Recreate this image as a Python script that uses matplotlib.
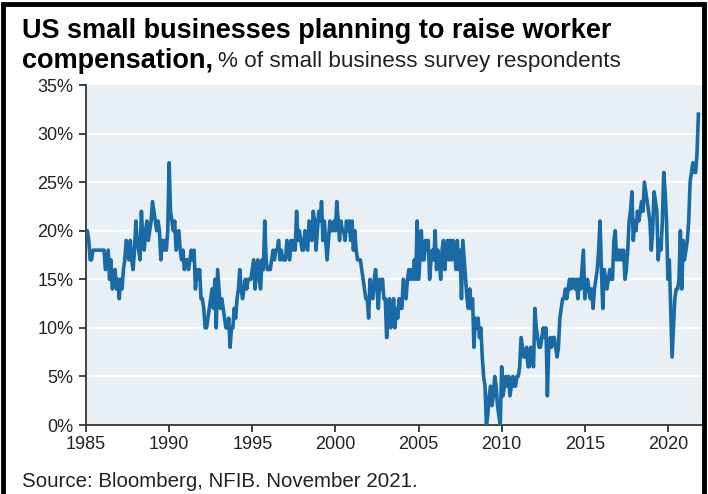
import numpy as np
import matplotlib
matplotlib.use("Agg")
from matplotlib import pyplot as plt
from matplotlib.patches import Rectangle

plt.rcParams['font.family'] = ['Liberation Sans', 'DejaVu Sans']

# monthly NFIB share planning to raise compensation (%), Jan 1985 - Nov 2021
comp_plans = {
    1985: [20, 20, 19, 17, 17, 18, 18, 18, 18, 18, 18, 18],
    1986: [18, 18, 16, 17, 18, 15, 17, 14, 15, 16, 14, 15],
    1987: [13, 15, 14, 16, 17, 19, 18, 17, 19, 17, 16, 18],
    1988: [21, 19, 18, 17, 22, 19, 18, 20, 21, 19, 20, 21],
    1989: [23, 22, 21, 20, 21, 20, 17, 19, 18, 19, 18, 20],
    1990: [27, 22, 21, 20, 21, 18, 19, 20, 18, 17, 18, 16],
    1991: [17, 17, 16, 17, 18, 17, 18, 14, 16, 15, 16, 13],
    1992: [13, 12, 10, 10, 11, 12, 13, 14, 12, 15, 10, 16],
    1993: [14, 12, 13, 12, 11, 10, 10, 11, 8, 10, 10, 12],
    1994: [11, 13, 14, 16, 14, 13, 14, 15, 14, 15, 15, 15],
    1995: [16, 17, 14, 16, 17, 15, 14, 17, 16, 21, 17, 16],
    1996: [16, 16, 17, 18, 17, 18, 18, 19, 17, 18, 17, 17],
    1997: [17, 19, 18, 17, 19, 18, 19, 18, 22, 19, 20, 19],
    1998: [18, 18, 20, 19, 18, 21, 20, 19, 22, 21, 18, 20],
    1999: [22, 21, 23, 19, 21, 19, 17, 19, 21, 20, 20, 21],
    2000: [20, 23, 21, 19, 21, 20, 20, 19, 21, 20, 21, 19],
    2001: [21, 18, 20, 18, 17, 17, 17, 16, 15, 14, 13, 13],
    2002: [11, 15, 14, 13, 15, 16, 14, 12, 15, 14, 15, 13],
    2003: [13, 9, 12, 13, 10, 11, 13, 10, 12, 11, 13, 12],
    2004: [12, 15, 14, 13, 15, 16, 15, 16, 15, 17, 15, 21],
    2005: [15, 17, 20, 17, 17, 19, 18, 19, 15, 17, 18, 17],
    2006: [20, 16, 18, 17, 15, 18, 19, 16, 18, 19, 17, 19],
    2007: [17, 19, 18, 16, 19, 16, 18, 13, 19, 17, 15, 13],
    2008: [12, 14, 12, 13, 8, 11, 10, 11, 9, 10, 7, 5],
    2009: [4, 0, 1, 3, 4, 2, 3, 5, 4, 2, 1, 0],
    2010: [6, 3, 4, 5, 4, 5, 3, 4, 5, 4, 4, 5],
    2011: [5, 6, 9, 8, 7, 7, 8, 6, 6, 8, 7, 6],
    2012: [12, 10, 9, 8, 8, 9, 10, 9, 10, 3, 8, 9],
    2013: [8, 9, 9, 8, 7, 8, 11, 12, 13, 13, 14, 13],
    2014: [14, 15, 14, 15, 15, 14, 15, 13, 15, 14, 16, 18],
    2015: [13, 14, 15, 14, 13, 14, 12, 14, 15, 16, 18, 21],
    2016: [16, 12, 16, 15, 14, 15, 16, 15, 15, 19, 20, 17],
    2017: [18, 17, 18, 17, 18, 15, 16, 18, 21, 22, 24, 19],
    2018: [21, 20, 22, 21, 22, 23, 22, 25, 24, 23, 22, 21],
    2019: [18, 20, 24, 23, 22, 17, 19, 18, 21, 26, 24, 21],
    2020: [15, 17, 12, 7, 10, 13, 14, 14, 15, 20, 14, 19],
    2021: [17, 18, 19, 21, 25, 26, 27, 26, 26, 28, 32],
}

values = np.concatenate([comp_plans[y] for y in sorted(comp_plans)])
dates = 1985 + np.arange(len(values)) / 12

year_ticks = [1985, 1990, 1995, 2000, 2005, 2010, 2015, 2020]
pct_ticks = [0, 5, 10, 15, 20, 25, 30, 35]

W, H = 708, 494
fig = plt.figure(figsize=(W / 100, H / 100), dpi=100)
ax = fig.add_axes([86 / W, (H - 425) / H, (702 - 86) / W, (425 - 85) / H])
ax.set_facecolor('#e8f0f5')

for p in pct_ticks[1:-1]:
    ax.axhline(p, color='white', lw=1.6, zorder=1)

ax.plot(dates, values, color='#1a6aa6', lw=2.6, zorder=3, solid_joinstyle='round')

ax.set_xlim(1985, 2022.05)
ax.set_ylim(0, 35)
ax.set_xticks(year_ticks)
ax.set_xticklabels([str(y) for y in year_ticks])
ax.set_yticks(pct_ticks)
ax.set_yticklabels([f'{p}%' for p in pct_ticks])
ax.tick_params(axis='both', labelsize=13, colors='#222222', length=5, width=1.2, direction='out')
ax.tick_params(axis='x', pad=3)
ax.tick_params(axis='y', pad=4)

for side in ['top', 'right']:
    ax.spines[side].set_visible(False)
for side in ['left', 'bottom']:
    ax.spines[side].set_color('#333333')
    ax.spines[side].set_linewidth(1.3)

# heading: bold lead-in followed by plain subtitle
fig.text(22 / W, 1 - 31 / H, 'US small businesses planning to raise worker',
         fontsize=19.5, fontweight='bold', va='center', ha='left')
t = fig.text(22 / W, 1 - 61 / H, 'compensation,', fontsize=19.5, fontweight='bold',
             va='center', ha='left')
fig.canvas.draw()
bb = t.get_window_extent()
fig.text((bb.x1 + 5) / W, 1 - 61 / H, '% of small business survey respondents',
         fontsize=16.2, va='center', ha='left', color='#222222')

fig.text(22 / W, 1 - 481 / H, 'Source: Bloomberg, NFIB. November 2021.',
         fontsize=14.8, va='center', ha='left', color='#222222')

# black frame round the panel
fig.patches.append(Rectangle((3 / W, -0.05), (704 - 3) / W, 1 - 4 / H + 0.05,
                             transform=fig.transFigure, fill=False,
                             edgecolor='black', lw=3.5))

fig.savefig('out.png', dpi=100)
